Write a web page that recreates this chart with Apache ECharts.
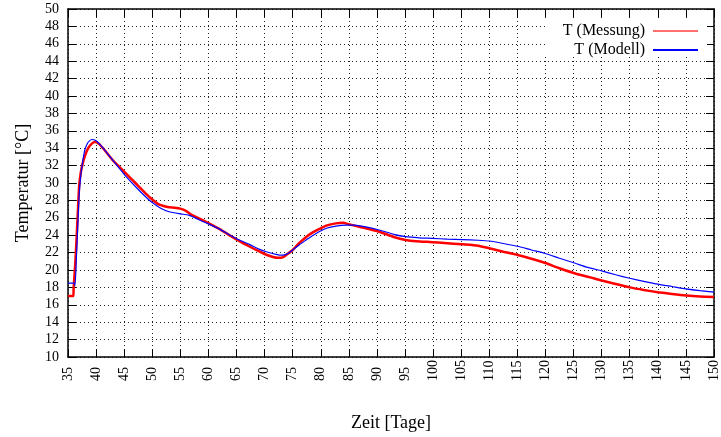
<!DOCTYPE html>
<html>
<head>
<meta charset="utf-8">
<script src="https://cdn.jsdelivr.net/npm/echarts@6/dist/echarts.min.js"></script>
<style>
  html, body { margin: 0; padding: 0; background: #fff; }
  #chart { width: 721px; height: 437px; }
</style>
</head>
<body>
<div id="chart"></div>
<script>
// Gemessene Temperatur (Tag, °C)
const tMessung = [35, 35.95, 36.0, 36.3, 36.5, 36.8, 37.0, 37.3, 37.6, 38.0, 38.6, 39.2, 39.8, 40.5, 41.5, 43, 45, 47, 49, 50, 51, 52, 53, 54, 55, 56, 57, 58.4, 60, 62, 64, 66, 67.3, 68.5, 70.3, 71.5, 72.3, 73.2, 74, 75, 76, 77.4, 78.5, 79.7, 81, 82.7, 84, 85, 87, 90.4, 93, 95.1, 97, 99.8, 102, 105.2, 108, 110, 112.5, 115.2, 118, 120, 122.5, 125.3, 128, 130, 132.5, 135, 137.5, 140, 142.5, 145, 147.5, 150];
const TMessung = [17.0, 17.0, 17.9, 20.8, 23.3, 27.3, 29.8, 31.3, 32.2, 33.1, 34.0, 34.5, 34.7, 34.5, 33.8, 32.6, 31.3, 30.0, 28.7, 28.1, 27.6, 27.35, 27.2, 27.15, 27.05, 26.8, 26.35, 25.9, 25.4, 24.7, 23.9, 23.15, 22.7, 22.3, 21.75, 21.5, 21.4, 21.45, 21.8, 22.3, 23.0, 23.8, 24.3, 24.7, 25.1, 25.36, 25.42, 25.25, 24.95, 24.4, 23.8, 23.45, 23.3, 23.2, 23.1, 22.95, 22.8, 22.5, 22.1, 21.7, 21.2, 20.8, 20.2, 19.6, 19.15, 18.8, 18.4, 18.0, 17.7, 17.45, 17.25, 17.07, 16.95, 16.9];

// Modellierte Temperatur (Tag, °C)
const tModell = [35, 36.1, 36.25, 36.5, 36.8, 37.0, 37.3, 37.6, 38.0, 38.5, 39.2, 40, 41, 42.5, 45, 47, 49, 50, 51.5, 53, 55, 56.5, 58.4, 60, 62, 63.7, 65, 67.3, 69, 70.3, 72, 73.2, 74, 75, 76.2, 77.4, 78.5, 79.7, 81, 82.7, 84.5, 86, 88, 90.4, 93, 95.1, 97.5, 99.8, 102.5, 105.2, 108, 110, 112.5, 115.2, 117.5, 120, 122.5, 125.3, 127.5, 130, 132.5, 135, 137.5, 140, 142.5, 145, 147.5, 150];
const TModell = [18.5, 18.5, 18.2, 21.5, 26.0, 28.8, 31.0, 32.4, 33.8, 34.6, 35.0, 34.85, 34.2, 33.0, 31.0, 29.6, 28.3, 27.75, 27.1, 26.7, 26.45, 26.3, 25.75, 25.3, 24.7, 24.05, 23.6, 22.95, 22.4, 22.1, 21.8, 21.7, 21.85, 22.3, 22.9, 23.45, 23.95, 24.4, 24.8, 25.05, 25.15, 25.15, 24.95, 24.6, 24.1, 23.83, 23.7, 23.64, 23.55, 23.5, 23.42, 23.33, 23.05, 22.7, 22.3, 21.9, 21.35, 20.77, 20.3, 19.9, 19.45, 19.05, 18.7, 18.37, 18.1, 17.83, 17.62, 17.45];

const seriesNames = ['T (Messung)', 'T (Modell)'];
const xTitle = 'Zeit [Tage]';
const yTitle = 'Temperatur [°C]';

const serif = 'Liberation Serif';
const gridLine = { show: true, lineStyle: { color: '#222', width: 1, type: [1, 3] } };
const frame = { show: true, lineStyle: { color: '#000', width: 1.5 } };
const ticksIn = { show: true, inside: true, length: 8, lineStyle: { color: '#000', width: 1 } };

// one right-aligned legend row per series (key sample to the right of the text)
function legendRow(name, color, top) {
  return {
    orient: 'horizontal',
    right: 18,
    top: top,
    align: 'right',
    itemWidth: 45,
    itemHeight: 2,
    icon: 'rect',
    textStyle: { fontFamily: serif, fontSize: 16, color: '#000', padding: [0, 3, 0, 0] },
    data: [{ name: name, itemStyle: { color: color } }]
  };
}

const chart = echarts.init(document.getElementById('chart'), null, { renderer: 'canvas' });
chart.setOption({
  animation: false,
  backgroundColor: '#fff',
  grid: { left: 68, right: 5, top: 9, bottom: 78 },
  // blank key area: the dotted grid stops behind the legend, frame ticks stay visible
  graphic: [{
    type: 'rect', right: 14, top: 18, z: 1, silent: true,
    shape: { width: 162, height: 39 },
    style: { fill: '#fff' }
  }],
  legend: [
    legendRow(seriesNames[0], '#ff7070', 18),
    legendRow(seriesNames[1], '#0000ff', 37)
  ],
  xAxis: [
    {
      type: 'value', min: 35, max: 150, interval: 5, position: 'bottom',
      name: xTitle, nameLocation: 'middle', nameGap: 57,
      nameTextStyle: { fontFamily: serif, fontSize: 18, color: '#000' },
      axisLine: frame, axisTick: ticksIn, splitLine: gridLine,
      axisLabel: { rotate: 90, align: 'left', verticalAlign: 'middle', margin: 24, fontFamily: serif, fontSize: 14, color: '#000' }
    },
    {
      type: 'value', min: 35, max: 150, interval: 5, position: 'top',
      axisLine: frame, axisTick: ticksIn, splitLine: { show: false }, axisLabel: { show: false }
    }
  ],
  yAxis: [
    {
      type: 'value', min: 10, max: 50, interval: 2, position: 'left',
      name: yTitle, nameLocation: 'middle', nameGap: 36, nameRotate: 90,
      nameTextStyle: { fontFamily: serif, fontSize: 18, color: '#000' },
      axisLine: frame, axisTick: ticksIn, splitLine: gridLine,
      axisLabel: { margin: 9, fontFamily: serif, fontSize: 14, color: '#000' }
    },
    {
      type: 'value', min: 10, max: 50, interval: 2, position: 'right',
      axisLine: frame, axisTick: ticksIn, splitLine: { show: false }, axisLabel: { show: false }
    }
  ],
  series: [
    {
      name: seriesNames[0], type: 'line', xAxisIndex: 0, yAxisIndex: 0,
      data: tMessung.map((t, i) => [t, TMessung[i]]),
      showSymbol: false, smooth: 0.2,
      lineStyle: { color: '#ff0000', width: 2.5 }, itemStyle: { color: '#ff0000' }, z: 2
    },
    {
      name: seriesNames[1], type: 'line', xAxisIndex: 0, yAxisIndex: 0,
      data: tModell.map((t, i) => [t, TModell[i]]),
      showSymbol: false, smooth: 0.2,
      lineStyle: { color: '#0000ff', width: 1.2 }, itemStyle: { color: '#0000ff' }, z: 3
    }
  ]
});
</script>
</body>
</html>
